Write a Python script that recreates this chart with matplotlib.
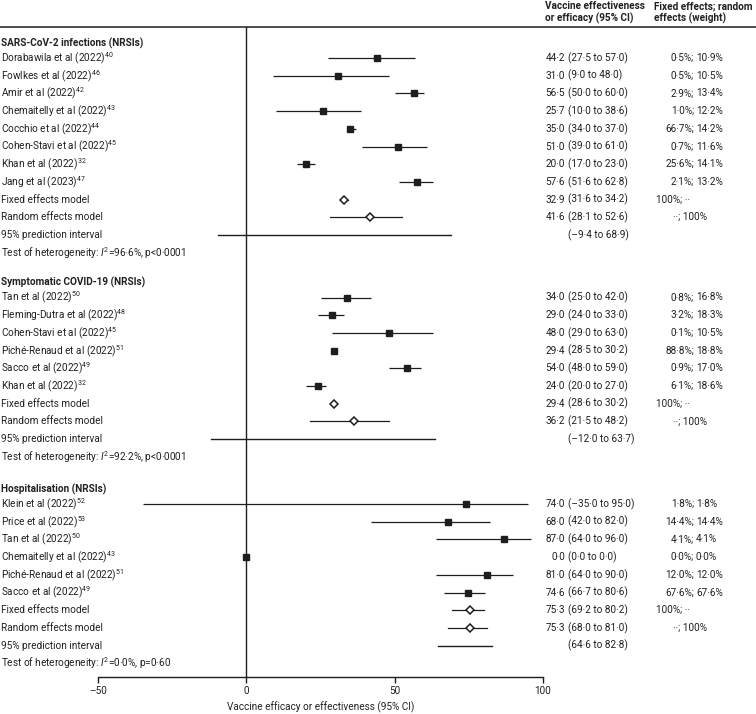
import matplotlib
matplotlib.use('Agg')
import matplotlib.pyplot as plt
from matplotlib import font_manager as fm
from matplotlib.lines import Line2D
from matplotlib.transforms import blended_transform_factory

# ---------------- data ----------------
sec_titles = ['SARS-CoV-2 infections (NRSIs)', 'Symptomatic COVID-19 (NRSIs)', 'Hospitalisation (NRSIs)']

sars_names = ['Dorabawila et al (2022)', 'Fowlkes et al (2022)', 'Amir et al (2022)',
              'Chemaitelly et al (2022)', 'Cocchio et al (2022)', 'Cohen-Stavi et al (2022)',
              'Khan et al (2022)', 'Jang et al (2023)']
sars_refs = ['40', '46', '42', '43', '44', '45', '32', '47']
sars_est = [44.2, 31.0, 56.5, 25.7, 35.0, 51.0, 20.0, 57.6]
sars_lo = [27.5, 9.0, 50.0, 10.0, 34.0, 39.0, 17.0, 51.6]
sars_hi = [57.0, 48.0, 60.0, 38.6, 37.0, 61.0, 23.0, 62.8]
sars_wfix = ['0·5%', '0·5%', '2·9%', '1·0%', '66·7%', '0·7%', '25·6%', '2·1%']
sars_wran = ['10·9%', '10·5%', '13·4%', '12·2%', '14·2%', '11·6%', '14·1%', '13·2%']

symp_names = ['Tan et al (2022)', 'Fleming-Dutra et al (2022)', 'Cohen-Stavi et al (2022)',
              'Piché-Renaud et al (2022)', 'Sacco et al (2022)', 'Khan et al (2022)']
symp_refs = ['50', '48', '45', '51', '49', '32']
symp_est = [34.0, 29.0, 48.0, 29.4, 54.0, 24.0]
symp_lo = [25.0, 24.0, 29.0, 28.5, 48.0, 20.0]
symp_hi = [42.0, 33.0, 63.0, 30.2, 59.0, 27.0]
symp_wfix = ['0·8%', '3·2%', '0·1%', '88·8%', '0·9%', '6·1%']
symp_wran = ['16·8%', '18·3%', '10·5%', '18·8%', '17·0%', '18·6%']

hosp_names = ['Klein et al (2022)', 'Price et al (2022)', 'Tan et al (2022)',
              'Chemaitelly et al (2022)', 'Piché-Renaud et al (2022)', 'Sacco et al (2022)']
hosp_refs = ['52', '53', '50', '43', '51', '49']
hosp_est = [74.0, 68.0, 87.0, 0.0, 81.0, 74.6]
hosp_lo = [-35.0, 42.0, 64.0, 0.0, 64.0, 66.7]
hosp_hi = [95.0, 82.0, 96.0, 0.0, 90.0, 80.6]
hosp_wfix = ['1·8%', '14·4%', '4·1%', '0·0%', '12·0%', '67·6%']
hosp_wran = ['1·8%', '14·4%', '4·1%', '0·0%', '12·0%', '67·6%']

fixed_est = [32.9, 29.4, 75.3]
fixed_lo = [31.6, 28.6, 69.2]
fixed_hi = [34.2, 30.2, 80.2]
random_est = [41.6, 36.2, 75.3]
random_lo = [28.1, 21.5, 68.0]
random_hi = [52.6, 48.2, 81.0]
pi_lo = [-9.4, -12.0, 64.6]
pi_hi = [68.9, 63.7, 82.8]
het_i2 = ['96·6%', '92·2%', '0·0%']
het_p = ['<0·0001', '<0·0001', '=0·60']

xticks = [-50, 0, 50, 100]
xticklabels = ['–50', '0', '50', '100']
xlabel = 'Vaccine efficacy or effectiveness (95% CI)'
col1_head = ['Vaccine effectiveness', 'or efficacy (95% CI)']
col2_head = ['Fixed effects; random', 'effects (weight)']

sections = [
    (sars_names, sars_refs, sars_est, sars_lo, sars_hi, sars_wfix, sars_wran),
    (symp_names, symp_refs, symp_est, symp_lo, symp_hi, symp_wfix, symp_wran),
    (hosp_names, hosp_refs, hosp_est, hosp_lo, hosp_hi, hosp_wfix, hosp_wran),
]

# ---------------- fonts ----------------
names_avail = {f.name for f in fm.fontManager.ttflist}
if 'Liberation Sans Narrow' in names_avail:
    FAM, FS = 'Liberation Sans Narrow', 7.7
else:
    FAM, FS = 'Roboto', 7.2
plt.rcParams['font.family'] = [FAM, 'DejaVu Sans']
plt.rcParams['mathtext.fontset'] = 'custom'
plt.rcParams['mathtext.rm'] = FAM
plt.rcParams['mathtext.it'] = FAM + ':italic'
plt.rcParams['mathtext.bf'] = FAM + ':bold'

TXT = '#231f20'
LC = '#1e1e1e'

W, H = 756, 714
fig = plt.figure(figsize=(W / 100, H / 100), dpi=100)
AX_L, AX_R, AX_T, AX_B = 98, 543, 27, 677
ax = fig.add_axes([AX_L / W, 1 - AX_B / H, (AX_R - AX_L) / W, (AX_B - AX_T) / H])
ax.set_xlim(-50, 100)
ax.set_ylim(AX_B, AX_T)

trL = blended_transform_factory(fig.transFigure, ax.transData)


def fx(px):
    return px / W


def fmt(v):
    s = f'{abs(v):.1f}'.replace('.', '·')
    return ('–' + s) if v < 0 else s


starts = [58.0, 297.5, 504.0]
step = 17.7

for si, (nm, rf, est, lo, hi, wf, wr) in enumerate(sections):
    y0 = starts[si]
    # section header
    ax.text(fx(1), y0 - 15, sec_titles[si], transform=trL, ha='left', va='center',
            fontsize=FS, fontweight='bold', color=TXT)
    for i in range(len(nm)):
        y = y0 + i * step
        ax.text(fx(1), y, nm[i] + r'$^{' + rf[i] + '}$', transform=trL, ha='left',
                va='center', fontsize=FS, color=TXT)
        ax.plot([lo[i], hi[i]], [y, y], color=LC, lw=0.9, solid_capstyle='butt', zorder=2)
        ax.plot(est[i], y, marker='s', ms=4.9, color=LC, mec=LC, zorder=3, clip_on=False)
        ax.text(fx(565), y, fmt(est[i]), transform=trL, ha='right', va='center', fontsize=FS, color=TXT)
        ax.text(fx(568), y, f'({fmt(lo[i])} to {fmt(hi[i])})', transform=trL, ha='left',
                va='center', fontsize=FS, color=TXT)
        ax.text(fx(694), y, wf[i] + ';', transform=trL, ha='right', va='center', fontsize=FS, color=TXT)
        ax.text(fx(696), y, wr[i], transform=trL, ha='left', va='center', fontsize=FS, color=TXT)
    n = len(nm)
    # fixed
    y = y0 + n * step
    ax.text(fx(1), y, 'Fixed effects model', transform=trL, ha='left', va='center', fontsize=FS, color=TXT)
    ax.plot([fixed_lo[si], fixed_hi[si]], [y, y], color=LC, lw=0.9, zorder=2)
    ax.plot(fixed_est[si], y, marker='D', ms=4.4, mfc='white', mec=LC, mew=1.1, zorder=3)
    ax.text(fx(565), y, fmt(fixed_est[si]), transform=trL, ha='right', va='center', fontsize=FS, color=TXT)
    ax.text(fx(568), y, f'({fmt(fixed_lo[si])} to {fmt(fixed_hi[si])})', transform=trL, ha='left',
            va='center', fontsize=FS, color=TXT)
    ax.text(fx(656), y, '100%; ··', transform=trL, ha='left', va='center', fontsize=FS, color=TXT)
    # random
    y = y0 + (n + 1) * step
    ax.text(fx(1), y, 'Random effects model', transform=trL, ha='left', va='center', fontsize=FS, color=TXT)
    ax.plot([random_lo[si], random_hi[si]], [y, y], color=LC, lw=0.9, zorder=2)
    ax.plot(random_est[si], y, marker='D', ms=4.4, mfc='white', mec=LC, mew=1.1, zorder=3)
    ax.text(fx(565), y, fmt(random_est[si]), transform=trL, ha='right', va='center', fontsize=FS, color=TXT)
    ax.text(fx(568), y, f'({fmt(random_lo[si])} to {fmt(random_hi[si])})', transform=trL, ha='left',
            va='center', fontsize=FS, color=TXT)
    ax.text(fx(673), y, '··; 100%', transform=trL, ha='left', va='center', fontsize=FS, color=TXT)
    # prediction interval
    y = y0 + (n + 2) * step
    ax.text(fx(1), y, '95% prediction interval', transform=trL, ha='left', va='center', fontsize=FS, color=TXT)
    ax.plot([pi_lo[si], pi_hi[si]], [y, y], color=LC, lw=1.0, zorder=2, clip_on=False)
    ax.text(fx(568), y, f'({fmt(pi_lo[si])} to {fmt(pi_hi[si])})', transform=trL, ha='left',
            va='center', fontsize=FS, color=TXT)
    # heterogeneity
    y = y0 + (n + 3) * step
    ax.text(fx(1), y, r'Test of heterogeneity: $\mathit{I}^{2}$=' + het_i2[si] + ', p' + het_p[si],
            transform=trL, ha='left', va='center', fontsize=FS, color=TXT)

# zero line
ax.axvline(0, color=LC, lw=1.0, zorder=1)

# top rule
fig.add_artist(Line2D([0, 1], [1 - AX_T / H, 1 - AX_T / H], transform=fig.transFigure, color=LC, lw=1.1))

# column headers
for j, t in enumerate(col1_head):
    fig.text(fx(545), 1 - (6 + 12.5 * j) / H, t, ha='left', va='center', fontsize=FS,
             fontweight='bold', color=TXT)
for j, t in enumerate(col2_head):
    fig.text(fx(654), 1 - (6 + 12.5 * j) / H, t, ha='left', va='center', fontsize=FS,
             fontweight='bold', color=TXT)

# axes styling
for s in ['top', 'right', 'left']:
    ax.spines[s].set_visible(False)
ax.spines['bottom'].set_bounds(-50, 100)
ax.spines['bottom'].set_color(LC)
ax.spines['bottom'].set_linewidth(1.0)
ax.set_yticks([])
ax.set_xticks(xticks)
ax.set_xticklabels(xticklabels)
ax.tick_params(axis='x', direction='out', length=4.5, width=1.0, colors=LC, labelsize=FS,
               labelcolor=TXT, pad=2)
ax.set_xlabel(xlabel, fontsize=FS, color=TXT, labelpad=4)
ax.patch.set_alpha(0)

fig.savefig('out.png', dpi=100)
